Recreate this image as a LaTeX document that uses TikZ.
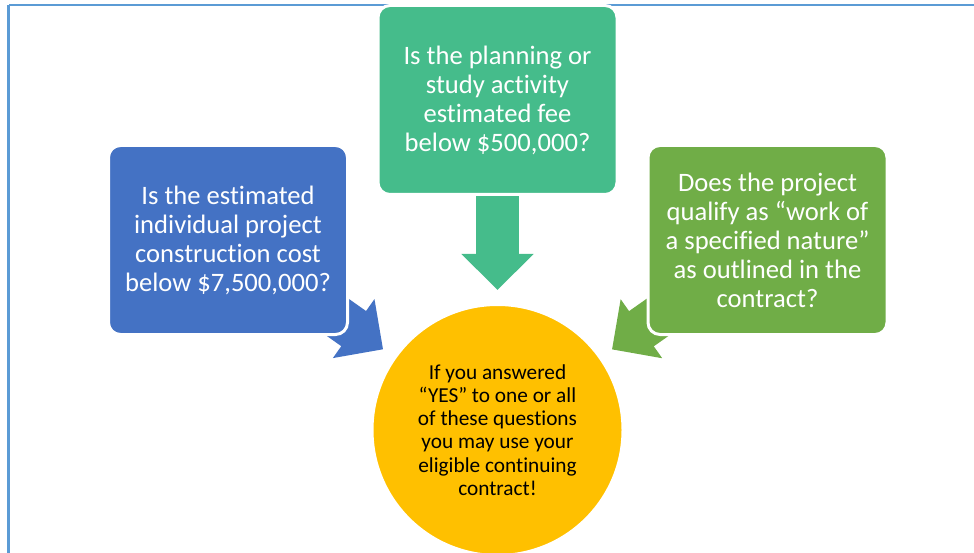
\documentclass[tikz,border=0pt]{standalone}
\usepackage{fontspec}
\setmainfont{Carlito}[Ligatures=NoCommon]
\usetikzlibrary{positioning,arrows.meta,backgrounds}
\definecolor{costblue}{RGB}{68,114,196}
\definecolor{feeteal}{RGB}{69,188,139}
\definecolor{naturegreen}{RGB}{112,173,71}
\definecolor{answeryellow}{RGB}{255,192,0}
\definecolor{frameblue}{RGB}{91,155,213}
\tikzstyle{question} = [rectangle, rounded corners=12pt, draw=white, line width=3pt, minimum width=239pt, minimum height=189pt, text=white, align=center, font=\fontsize{26.6}{29}\selectfont]
\tikzstyle{bigarrow} = [line width=43pt, -{Triangle[length=36pt,width=70pt]}, shorten >=13pt]

\begin{document}
\begin{tikzpicture}[x=1pt,y=-1pt,node distance=140pt,on grid]
    \useasboundingbox (0,0) rectangle (974,553);
    % frame
    \draw[frameblue, line width=1.2pt] (974,5) -- (8.5,5);
    \draw[frameblue, line width=2.5pt] (8.5,5) -- (8.5,553);
    % questions
    \node[question, fill=feeteal] (qfee) at (497.5,100) {Is the planning or\\study activity\\estimated fee\\below \$500,000?};
    \node[question, fill=costblue][below left=140pt and 269.5pt of qfee] (qcost) {Is the estimated\\individual project\\construction cost\\below \$7,500,000?};
    \node[question, fill=naturegreen][right=539.5pt of qcost] (qnature) {Does the project\\qualify as “work of\\a specified nature”\\as outlined in the\\contract?};
    % answer
    \node[circle, draw=white, line width=3pt, fill=answeryellow, minimum size=251pt, align=center, font=\fontsize{21.3}{23.3}\selectfont][below=330pt of qfee] (answer) {If you answered\\“YES” to one or all\\of these questions\\you may use your\\eligible continuing\\contract!};
    \begin{scope}[on background layer]
    \path[bigarrow]
    (qfee.center) edge[draw=feeteal] (answer)
    (qcost.center) edge[draw=costblue] (answer)
    (qnature.center) edge[draw=naturegreen] (answer);
    \end{scope}
\end{tikzpicture}
\end{document}
